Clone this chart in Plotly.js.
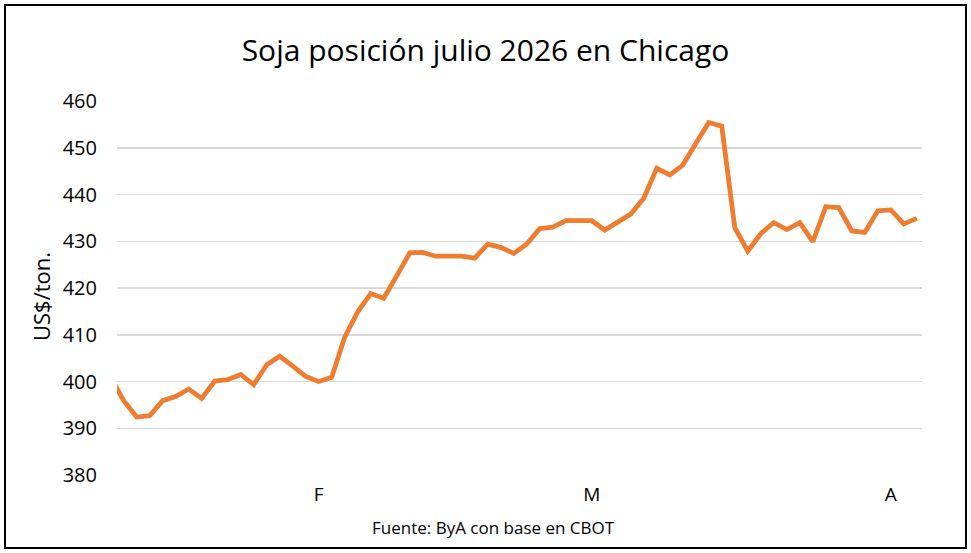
<!DOCTYPE html>
<html>
<head>
<meta charset="utf-8">
<script src="https://cdn.plot.ly/plotly-3.0.1.min.js"></script>
<style>
  html, body { margin: 0; padding: 0; background: #fff; }
  #chart { position: absolute; left: 0; top: 0; width: 971px; height: 553px; }
  #frame { position: absolute; left: 4px; top: 4px; width: 959px; height: 541px; border: 2px solid #000; pointer-events: none; }
</style>
</head>
<body>
<div id="chart"></div>
<div id="frame"></div>
<script>
// Daily settlement prices (US$/ton), soybean July 2026 contract, CBOT
const dayIndex = [0,1,2,3,4,5,6,7,8,9,10,11,12,13,14,15,16,17,18,19,20,21,22,23,24,25,26,27,28,29,30,31,32,33,34,35,36,37,38,39,40,41,42,43,44,45,46,47,48,49,50,51,52,53,54,55,56,57,58,59,60,61,62];
const prices = [400.9,395.9,392.4,392.7,395.9,396.8,398.4,396.4,400.1,400.4,401.5,399.3,403.6,405.4,403.3,401.1,400.0,400.9,409.5,414.9,418.8,417.8,422.6,427.5,427.6,426.8,426.8,426.8,426.4,429.4,428.7,427.4,429.4,432.7,433.0,434.4,434.4,434.4,432.4,434.2,435.8,439.2,445.6,444.2,446.3,450.9,455.4,454.6,432.9,427.9,431.6,434.0,432.5,434.0,429.9,437.4,437.2,432.2,431.9,436.5,436.7,433.7,434.9];
const monthTickIndex = [16, 37, 60];
const monthTickLabels = ['F', 'M', 'A'];
const yTicks = [380,390,400,410,420,430,440,450,460];

const FONT = 'Open Sans, Noto Sans, sans-serif';

Plotly.newPlot('chart', [{
  x: dayIndex,
  y: prices,
  type: 'scatter',
  mode: 'lines',
  line: { color: '#ED7D31', width: 4.8 },
  hoverinfo: 'skip'
}], {
  width: 971, height: 553,
  paper_bgcolor: '#fff', plot_bgcolor: '#fff',
  margin: { l: 117, r: 49, t: 101, b: 78 },
  showlegend: false,
  title: {
    text: 'Soja posición julio 2026 en Chicago',
    font: { family: FONT, size: 30, color: '#000' },
    x: 0.5, xref: 'container', xanchor: 'center',
    y: 1 - 50/553, yref: 'container', yanchor: 'middle'
  },
  xaxis: {
    range: [0.485, 62.4],
    tickmode: 'array', tickvals: monthTickIndex, ticktext: monthTickLabels,
    showgrid: false, zeroline: false, showline: false, ticks: '',
    ticklabelstandoff: 6,
    tickfont: { family: FONT, size: 19, color: '#000' }
  },
  yaxis: {
    range: [380, 460],
    tickmode: 'array', tickvals: yTicks,
    showgrid: true, gridcolor: '#d9d9d9', gridwidth: 1.5,
    zeroline: false, showline: false, ticks: '',
    ticklabelstandoff: 19,
    tickfont: { family: FONT, size: 20, color: '#000' }
  },
  annotations: [
    {
      text: 'US$/ton.', textangle: -90, showarrow: false,
      xref: 'paper', yref: 'paper', x: (41-117)/805, y: (475-297)/374,
      xanchor: 'center', yanchor: 'middle',
      font: { family: FONT, size: 22, color: '#000' }
    },
    {
      text: 'Fuente: ByA con base en CBOT', showarrow: false,
      xref: 'paper', yref: 'paper', x: (493-117)/805, y: (475-527)/374,
      xanchor: 'center', yanchor: 'middle',
      font: { family: FONT, size: 17, color: '#000' }
    }
  ]
}, { displayModeBar: false, staticPlot: true });
</script>
</body>
</html>
